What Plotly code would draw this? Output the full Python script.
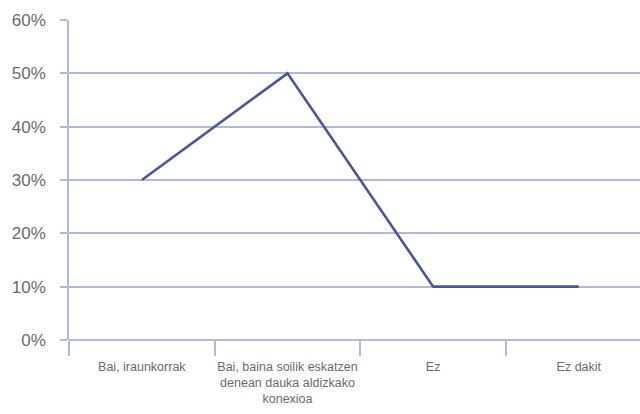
import plotly.graph_objects as go

categories = [
    "Bai, iraunkorrak",
    "Bai, baina soilik eskatzen<br>denean dauka aldizkako<br>konexioa",
    "Ez",
    "Ez dakit",
]
values = [0.30, 0.50, 0.10, 0.10]
y_ticks = [0, 0.1, 0.2, 0.3, 0.4, 0.5, 0.6]
y_labels = ["0%", "10%", "20%", "30%", "40%", "50%", "60%"]

grid_color = "#B2B8DA"
line_color = "#4A55A2"
text_color = "#6B6B6B"

fig = go.Figure(
    go.Scatter(
        x=categories,
        y=values,
        mode="lines",
        line=dict(color=line_color, width=2.6),
        hoverinfo="skip",
    )
)

fig.update_layout(
    width=640,
    height=414,
    margin=dict(l=69, r=0, t=20, b=74),
    paper_bgcolor="white",
    plot_bgcolor="white",
    showlegend=False,
    font=dict(family="Liberation Sans, Arial, sans-serif", color=text_color),
)

fig.update_xaxes(
    type="category",
    range=[-0.5, 3.42],
    tickson="boundaries",
    ticks="outside",
    ticklen=15,
    tickwidth=1.5,
    tickcolor=grid_color,
    tickangle=0,
    automargin=False,
    showgrid=False,
    showline=False,
    zeroline=False,
    ticklabelstandoff=17,
    tickfont=dict(size=12.5, color=text_color),
)

fig.update_yaxes(
    range=[0, 0.6],
    tickvals=y_ticks,
    ticktext=y_labels,
    ticks="outside",
    ticklen=7,
    tickwidth=1.5,
    tickcolor=grid_color,
    showgrid=True,
    gridcolor=grid_color,
    gridwidth=1.5,
    showline=True,
    linecolor=grid_color,
    linewidth=1.5,
    zeroline=True,
    zerolinecolor=grid_color,
    zerolinewidth=1.5,
    automargin=False,
    ticklabelstandoff=11,
    tickfont=dict(size=17, color=text_color),
)

fig.write_html("out.html")
